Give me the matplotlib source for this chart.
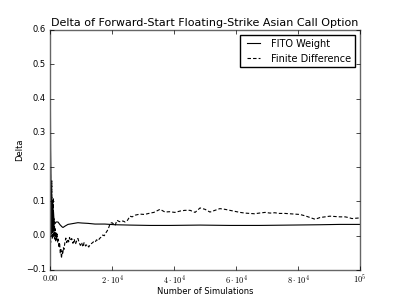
import matplotlib

matplotlib.use("Agg")
import matplotlib.pyplot as plt  # noqa: E402
from matplotlib.ticker import FixedLocator, FixedFormatter  # noqa: E402

# values
fito_n = [0, 100, 200, 320, 480, 650, 800, 970, 1130, 1290, 1610, 1940,
          2580, 3230, 3870, 4190, 4840, 5800, 7100, 9000, 10300, 12260,
          14500, 17700, 21000, 25800, 32300, 38700, 48400, 58000, 67700,
          77400, 87100, 93500, 100000]
fito_delta = [0.60, 0.45, 0.25, 0.16, 0.12, 0.08, 0.10, 0.06, 0.07, 0.045,
              0.035, 0.04, 0.04, 0.032, 0.026, 0.024, 0.028, 0.033, 0.035,
              0.038, 0.037, 0.036, 0.034, 0.034, 0.032, 0.031, 0.030, 0.030,
              0.031, 0.030, 0.030, 0.031, 0.032, 0.033, 0.033]

fd_n = [50, 100, 150, 200, 280, 350, 420, 500, 580, 660, 740, 820, 900, 980,
        1060, 1150, 1250, 1350, 1450, 1550, 1700, 1850, 2000, 2150, 2300,
        2500, 2700, 2900, 3100, 3300, 3500, 3700, 3900, 4100, 4300, 4500,
        4800, 5100, 5400, 5700, 6000, 6300, 6600, 7000, 7400, 7800, 8200,
        8600, 9000, 9400, 9800, 10200, 10600, 11000, 11500, 12000, 12500,
        13000, 13500, 14000, 14500, 15000, 15500, 16000, 16500, 17000, 17500,
        18000, 18500, 19000, 19400, 20000, 20500, 21000, 21600, 22200, 22800,
        23500, 24200, 25000, 25800, 26500, 27500, 29000, 30500, 32300, 33500,
        35500, 36300, 37100, 38500, 40300, 42000, 43500, 45200, 46800, 48400,
        50000, 51600, 53200, 54800, 56400, 58000, 59600, 61300, 62900, 64500,
        66000, 67500, 69400, 71000, 72500, 74000, 75800, 77500, 79000, 80600,
        82300, 83900, 85500, 87100, 88700, 90300, 92000, 93600, 95200, 96300,
        97400, 98700, 100000]
fd_delta = [0.30, 0.05, 0.20, -0.02, 0.15, 0.0, 0.12, 0.05, 0.16, 0.02, 0.10,
            -0.01, 0.07, 0.0, 0.11, 0.02, 0.05, -0.005, 0.03, -0.01, 0.02,
            -0.015, 0.01, -0.01, 0.005, -0.02, -0.01, -0.035, -0.02, -0.05,
            -0.04, -0.066, -0.045, -0.055, -0.035, -0.04, -0.02, -0.007,
            -0.02, -0.01, -0.018, -0.005, -0.015, -0.008, -0.022, -0.01,
            -0.025, -0.015, -0.008, -0.02, -0.028, -0.02, -0.033, -0.02,
            -0.03, -0.025, -0.033, -0.025, -0.022, -0.018, -0.02, -0.012,
            -0.015, -0.008, -0.004, 0.002, 0.0, 0.008, 0.015, 0.025, 0.036,
            0.038, 0.034, 0.030, 0.045, 0.042, 0.040, 0.043, 0.040, 0.045,
            0.057, 0.055, 0.060, 0.063, 0.062, 0.066, 0.068, 0.077, 0.073,
            0.069, 0.070, 0.068, 0.072, 0.074, 0.074, 0.068, 0.081, 0.077,
            0.069, 0.074, 0.079, 0.077, 0.074, 0.071, 0.068, 0.066, 0.065,
            0.064, 0.066, 0.068, 0.066, 0.067, 0.065, 0.065, 0.064, 0.063,
            0.062, 0.058, 0.053, 0.048, 0.053, 0.055, 0.057, 0.056, 0.055,
            0.055, 0.053, 0.050, 0.051, 0.052]

x_ticks = [0, 20000, 40000, 60000, 80000, 100000]
x_labels = [r"$0.00$", r"$2\cdot10^4$", r"$4\cdot10^4$", r"$6\cdot10^4$",
            r"$8\cdot10^4$", r"$10^5$"]

plt.style.use("classic")
plt.rcParams["font.family"] = ["DejaVu Sans"]

fig, ax = plt.subplots(figsize=(4, 3), dpi=100)
ax.plot(fito_n, fito_delta, color="k", linestyle="-", linewidth=0.8,
        label="FITO Weight")
ax.plot(fd_n, fd_delta, color="k", linestyle="--", dashes=(2.5, 1.5),
        linewidth=0.8, label="Finite Difference")

ax.set_xlim(0, 100000)
ax.set_ylim(-0.1, 0.6)
ax.xaxis.set_major_locator(FixedLocator(x_ticks))
ax.xaxis.set_major_formatter(FixedFormatter(x_labels))
ax.tick_params(axis="y", labelsize=6, length=3, pad=3)
ax.tick_params(axis="x", labelsize=6, length=3, pad=2)
ax.set_title("Delta of Forward-Start Floating-Strike Asian Call Option",
             fontsize=8, pad=3)
ax.set_xlabel("Number of Simulations", fontsize=6, labelpad=1)
ax.set_ylabel("Delta", fontsize=6, labelpad=1)
for sp in ax.spines.values():
    sp.set_edgecolor("0.4")
ax.legend(loc="upper right", fontsize=7, handlelength=2.0, borderpad=0.4)

fig.savefig("out.png", dpi=100, facecolor="white")
plt.close(fig)
